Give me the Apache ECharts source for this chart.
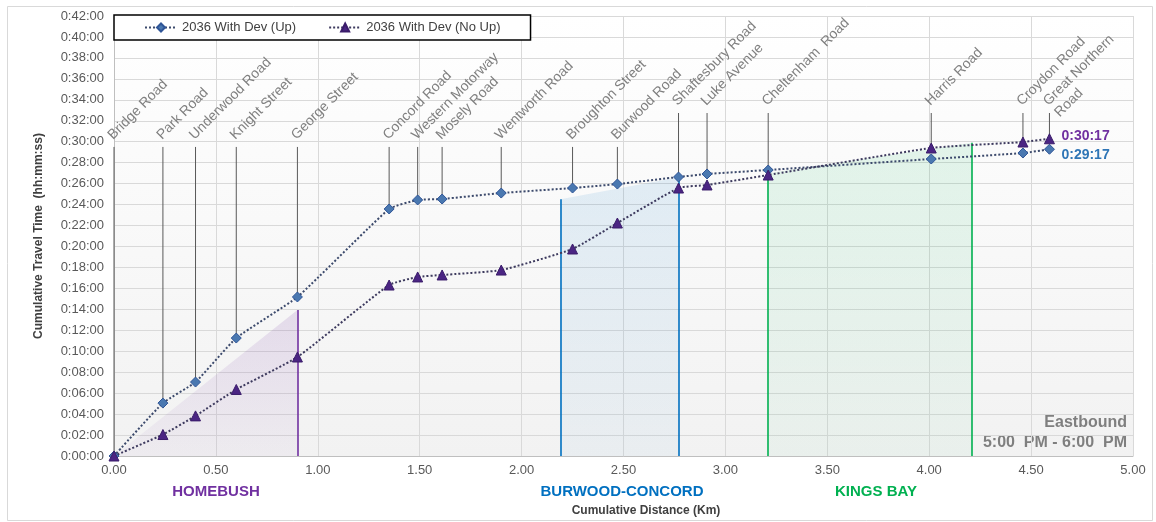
<!DOCTYPE html>
<html>
<head>
<meta charset="utf-8">
<script src="https://cdn.jsdelivr.net/npm/echarts@6/dist/echarts.min.js"></script>
<style>
  html, body { margin: 0; padding: 0; background: #fff; }
  #chart { width: 1156px; height: 522px; }
</style>
</head>
<body>
<div id="chart"></div>
<script>
// stations along the corridor (km) and cumulative travel times (minutes)
const stationNames = ['Bridge Road', 'Park Road', 'Underwood Road', 'Knight Street', 'George Street',
  'Concord Road', 'Western Motorway', 'Mosely Road', 'Wentworth Road', 'Broughton Street',
  'Burwood Road', 'Shaftesbury Road', 'Luke Avenue', 'Cheltenham  Road', 'Harris Road',
  'Croydon Road', 'Great Northern\nRoad'];
const distance = [0, 0.24, 0.40, 0.60, 0.90, 1.35, 1.49, 1.61, 1.90, 2.25, 2.47, 2.77, 2.91, 3.21, 4.01, 4.46, 4.59];
const timeUp   = [0, 5.05, 7.06, 11.26, 15.18, 23.58, 24.44, 24.53, 25.10, 25.58, 25.96, 26.63, 26.92, 27.30, 28.35, 28.92, 29.28];
const timeNoUp = [0, 2.05, 3.83, 6.35, 9.45, 16.32, 17.09, 17.28, 17.75, 19.76, 22.24, 25.58, 25.87, 26.82, 29.40, 29.97, 30.28];
// height (minutes) where each station label sits
const labelTop = [29.5, 29.5, 29.5, 29.5, 29.5, 29.5, 29.5, 29.5, 29.5, 29.5, 29.5, 32.74, 32.74, 32.74, 32.74, 32.74, 32.74];

// precinct bands: start/end km and top of the shading at each end
const regionNames = ['HOMEBUSH', 'BURWOOD-CONCORD', 'KINGS BAY'];
const regionStart = [0, 2.19, 3.21];
const regionEnd = [0.90, 2.77, 4.21];
const regionTopStart = [0, 24.5, 27.0];
const regionTopEnd = [13.94, 26.6, 29.9];
const regionColors = ['#7030a0', '#0070c0', '#00b050'];

const yTicks = { min: 0, max: 42, step: 2 };
const xTicks = { min: 0, max: 5, step: 0.5 };

const FONT = 'Liberation Sans, Arial, sans-serif';

function fmtTime(v) {
  const sec = Math.round(v * 60);
  const m = Math.floor(sec / 60), s = sec % 60;
  return '0:' + String(m).padStart(2, '0') + ':' + String(s).padStart(2, '0');
}

function hexA(hex, a) {
  const n = parseInt(hex.slice(1), 16);
  return 'rgba(' + (n >> 16) + ',' + ((n >> 8) & 255) + ',' + (n & 255) + ',' + a + ')';
}

const upData = distance.map((d, i) => [d, timeUp[i]]);
const noUpData = distance.map((d, i) => [d, timeNoUp[i]]);
const stationRows = distance.map((d, i) => [d, timeUp[i], timeNoUp[i], labelTop[i]]);

// shaded precinct bands with their edge lines
const regionSeries = regionNames.map((name, i) => ({
  type: 'line',
  name: name,
  data: [[regionStart[i], regionTopStart[i]], [regionEnd[i], regionTopEnd[i]]],
  symbol: 'none',
  silent: true,
  z: 1,
  lineStyle: { width: 0 },
  areaStyle: {
    color: {
      type: 'linear', x: 0, y: 0, x2: 0, y2: 1,
      colorStops: [
        { offset: 0, color: hexA(regionColors[i], i === 0 ? 0.2 : 0.15) },
        { offset: 1, color: hexA(regionColors[i], 0.05) }
      ]
    }
  },
  markLine: {
    silent: true,
    symbol: 'none',
    label: { show: false },
    lineStyle: { color: regionColors[i], width: 1.6, type: 'solid' },
    data: (i === 0 ? [] : [[{ coord: [regionStart[i], 0] }, { coord: [regionStart[i], regionTopStart[i]] }]])
      .concat([[{ coord: [regionEnd[i], 0] }, { coord: [regionEnd[i], regionTopEnd[i]] }]])
  }
}));

const option = {
  animation: false,
  backgroundColor: '#fff',
  textStyle: { fontFamily: FONT },
  grid: {
    left: 114, right: 23, top: 16, bottom: 66,
    show: true,
    borderWidth: 0,
    backgroundColor: {
      type: 'linear', x: 0, y: 0, x2: 0, y2: 1,
      colorStops: [{ offset: 0, color: '#ffffff' }, { offset: 1, color: '#f2f2f2' }]
    }
  },
  legend: {
    left: 114, top: 15,
    data: ['2036 With Dev (Up)', '2036 With Dev (No Up)'],
    backgroundColor: '#fff',
    borderColor: '#000',
    borderWidth: 1.5,
    padding: [6, 30, 6, 30],
    itemGap: 32,
    itemWidth: 32,
    itemHeight: 10,
    textStyle: { fontSize: 13, color: '#404040', fontFamily: FONT }
  },
  xAxis: {
    type: 'value',
    min: xTicks.min, max: xTicks.max, interval: xTicks.step,
    axisLine: { show: true, lineStyle: { color: '#bfbfbf' } },
    axisTick: { show: false },
    splitLine: { show: true, lineStyle: { color: '#d9d9d9' } },
    axisLabel: { color: '#595959', fontSize: 13, margin: 8, formatter: v => v.toFixed(2) }
  },
  yAxis: {
    type: 'value',
    min: yTicks.min, max: yTicks.max, interval: yTicks.step,
    name: 'Cumulative Travel Time  (hh:mm:ss)',
    nameLocation: 'middle',
    nameGap: 69,
    nameTextStyle: { fontSize: 12, fontWeight: 'bold', color: '#404040' },
    axisLine: { show: true, lineStyle: { color: '#bfbfbf' } },
    axisTick: { show: false },
    splitLine: { show: true, lineStyle: { color: '#d9d9d9' } },
    axisLabel: { color: '#595959', fontSize: 13, margin: 10, formatter: v => fmtTime(v) }
  },
  series: regionSeries.concat([
    {
      // station leader lines + rotated names
      type: 'custom',
      name: 'stations',
      silent: true,
      z: 3,
      clip: false,
      data: stationRows,
      renderItem: function (params, api) {
        const x = api.value(0);
        const low = Math.max(api.value(1), api.value(2));
        const p1 = api.coord([x, api.value(3)]);
        const p2 = api.coord([x, low]);
        return {
          type: 'group',
          children: [
            { type: 'line', shape: { x1: p1[0], y1: p1[1], x2: p2[0], y2: p2[1] },
              style: { stroke: '#595959', lineWidth: 1 } },
            { type: 'group', x: p1[0] + 2, y: p1[1] - 4, rotation: Math.PI / 4,
              children: [{
                type: 'text', x: 0, y: -16,
                style: {
                  text: stationNames[params.dataIndex],
                  fill: '#808080', fontSize: 14, fontFamily: FONT,
                  align: 'left', verticalAlign: 'top', lineHeight: 16
                }
              }] }
          ]
        };
      }
    },
    {
      type: 'line',
      name: '2036 With Dev (Up)',
      data: upData,
      smooth: 0.15,
      z: 5,
      symbol: 'diamond',
      symbolSize: 10,
      lineStyle: { color: '#3c4a6c', width: 2, type: 'dotted' },
      itemStyle: { color: '#4a78b0', borderColor: '#2f5597', borderWidth: 1 },
      endLabel: {
        show: true,
        formatter: p => fmtTime(p.value[1]),
        color: '#2e75b6', fontWeight: 'bold', fontSize: 14, fontFamily: FONT,
        offset: [4, 6]
      }
    },
    {
      type: 'line',
      name: '2036 With Dev (No Up)',
      data: noUpData,
      smooth: 0.15,
      z: 5,
      symbol: 'triangle',
      symbolSize: 10,
      lineStyle: { color: '#3d3a5e', width: 2, type: 'dotted' },
      itemStyle: { color: '#4b2583', borderColor: '#3a1c6a', borderWidth: 1 },
      endLabel: {
        show: true,
        formatter: p => fmtTime(p.value[1]),
        color: '#7030a0', fontWeight: 'bold', fontSize: 14, fontFamily: FONT,
        offset: [4, -3]
      }
    }
  ]),
  graphic: [
    { type: 'rect', left: 5, top: 4, shape: { width: 1145, height: 514 },
      style: { fill: 'none', stroke: '#d9d9d9', lineWidth: 1 }, silent: true },
    { type: 'text', x: 216, y: 492, style: { text: regionNames[0], fill: regionColors[0],
      fontSize: 15, fontWeight: 'bold', fontFamily: FONT, align: 'center', verticalAlign: 'middle' } },
    { type: 'text', x: 622, y: 492, style: { text: regionNames[1], fill: regionColors[1],
      fontSize: 15, fontWeight: 'bold', fontFamily: FONT, align: 'center', verticalAlign: 'middle' } },
    { type: 'text', x: 876, y: 492, style: { text: regionNames[2], fill: regionColors[2],
      fontSize: 15, fontWeight: 'bold', fontFamily: FONT, align: 'center', verticalAlign: 'middle' } },
    { type: 'text', x: 646, y: 511, style: { text: 'Cumulative Distance (Km)', fill: '#404040',
      fontSize: 12, fontWeight: 'bold', fontFamily: FONT, align: 'center', verticalAlign: 'middle' } },
    { type: 'text', x: 1127, y: 423, style: { text: 'Eastbound', fill: '#7f7f7f',
      fontSize: 16, fontWeight: 'bold', fontFamily: FONT, align: 'right', verticalAlign: 'middle' } },
    { type: 'text', x: 1127, y: 443, style: { text: '5:00  PM - 6:00  PM', fill: '#7f7f7f',
      fontSize: 16, fontWeight: 'bold', fontFamily: FONT, align: 'right', verticalAlign: 'middle' } }
  ]
};

const chart = echarts.init(document.getElementById('chart'), null, { renderer: 'canvas' });
chart.setOption(option);
window.addEventListener('resize', () => chart.resize());
</script>
</body>
</html>
